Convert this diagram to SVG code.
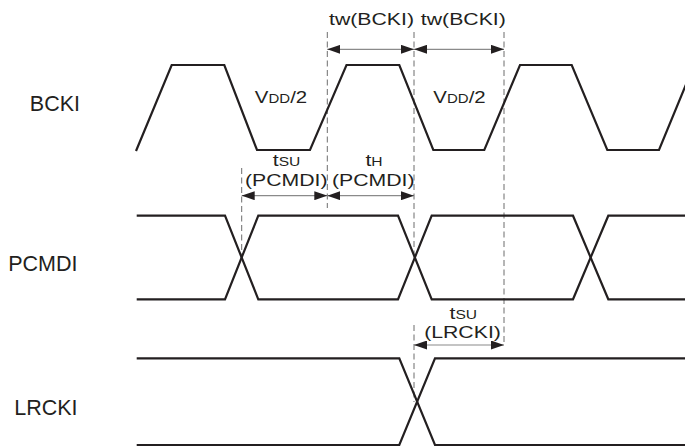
<svg xmlns="http://www.w3.org/2000/svg" width="685" height="448" viewBox="0 0 685 448">
<style>
.wave{fill:none;stroke:#231f20;stroke-width:2.2;stroke-linejoin:miter}
.dash{stroke:#6d6d6d;stroke-width:1;stroke-dasharray:6 3.5;fill:none}
.dim{stroke:#8a8a8a;stroke-width:1.2;fill:none;marker-start:url(#ah);marker-end:url(#ah)}
.lbl{font-family:"Liberation Sans",Arial,sans-serif;font-size:21.5px;fill:#231f20;text-anchor:end}
.ann{font-family:"Liberation Sans",Arial,sans-serif;font-size:17px;fill:#231f20;text-anchor:middle}
.sub{font-size:12.5px}
</style>
<defs>
<marker id="ah" markerUnits="userSpaceOnUse" viewBox="0 0 13 9" refX="13" refY="4.5" markerWidth="13" markerHeight="9" orient="auto-start-reverse">
<path d="M0,0 L13,4.5 L0,9 z" fill="#231f20"/>
</marker>
</defs>
<rect width="685" height="448" fill="#ffffff"/>
<g id="connectors">
<line class="dash" x1="241.7" y1="168" x2="241.7" y2="257"/>
<line class="dash" x1="327.3" y1="32" x2="327.3" y2="208"/>
<line class="dash" x1="414" y1="32" x2="414" y2="258"/>
<line class="dash" x1="414" y1="325" x2="414" y2="402"/>
<line class="dash" x1="504" y1="32" x2="504" y2="345"/>
<line class="dim" x1="327.3" y1="49.3" x2="414" y2="49.3"/>
<line class="dim" x1="414" y1="49.3" x2="504" y2="49.3"/>
<line class="dim" x1="241.7" y1="195.7" x2="327.3" y2="195.7"/>
<line class="dim" x1="327.3" y1="195.7" x2="414" y2="195.7"/>
<line class="dim" x1="414" y1="345" x2="504" y2="345"/>
</g>
<g id="bcki">
<text class="lbl" x="80" y="111">BCKI</text>
<path class="wave" d="M136,151 L171.7,65 L224.3,65 L257,150 L310,150 L346.5,65 L399.3,65 L433.3,150 L484.3,150 L520,65 L571.7,65 L607.3,150 L659,150 L694,65"/>
</g>
<g id="pcmdi">
<text class="lbl" x="77.5" y="271">PCMDI</text>
<path class="wave" d="M136.7,215.7 H225 L258.3,299.3 H398 L431.7,215.7 H573 L608.3,299.3 H690"/>
<path class="wave" d="M136.7,299.3 H225 L258.3,215.7 H398 L431.7,299.3 H573 L608.3,215.7 H690"/>
</g>
<g id="lrcki">
<text class="lbl" x="77.5" y="415">LRCKI</text>
<path class="wave" d="M136.7,358.3 H399.3 L435,445 H690"/>
<path class="wave" d="M136.7,445 H399.3 L435,358.3 H690"/>
</g>
<g id="tw1"><text class="ann" transform="matrix(1.25 0 0 1 371.5 25)">tw(BCKI)</text></g>
<g id="tw2"><text class="ann" transform="matrix(1.25 0 0 1 463.3 25)">tw(BCKI)</text></g>
<g id="vdd1"><text class="ann" transform="matrix(1.2 0 0 1 281 103)">V<tspan class="sub">DD</tspan>/2</text></g>
<g id="vdd2"><text class="ann" transform="matrix(1.2 0 0 1 459.5 103)">V<tspan class="sub">DD</tspan>/2</text></g>
<g id="tsu-pcmdi">
<text class="ann" transform="matrix(1.25 0 0 1 286.5 166)">t<tspan class="sub">SU</tspan></text>
<text class="ann" transform="matrix(1.25 0 0 1 286.3 186)">(PCMDI)</text>
</g>
<g id="th-pcmdi">
<text class="ann" transform="matrix(1.25 0 0 1 374 166)">t<tspan class="sub">H</tspan></text>
<text class="ann" transform="matrix(1.25 0 0 1 373.3 186)">(PCMDI)</text>
</g>
<g id="tsu-lrcki">
<text class="ann" transform="matrix(1.25 0 0 1 463.3 318.5)">t<tspan class="sub">SU</tspan></text>
<text class="ann" transform="matrix(1.25 0 0 1 462.5 337.5)">(LRCKI)</text>
</g>
</svg>
